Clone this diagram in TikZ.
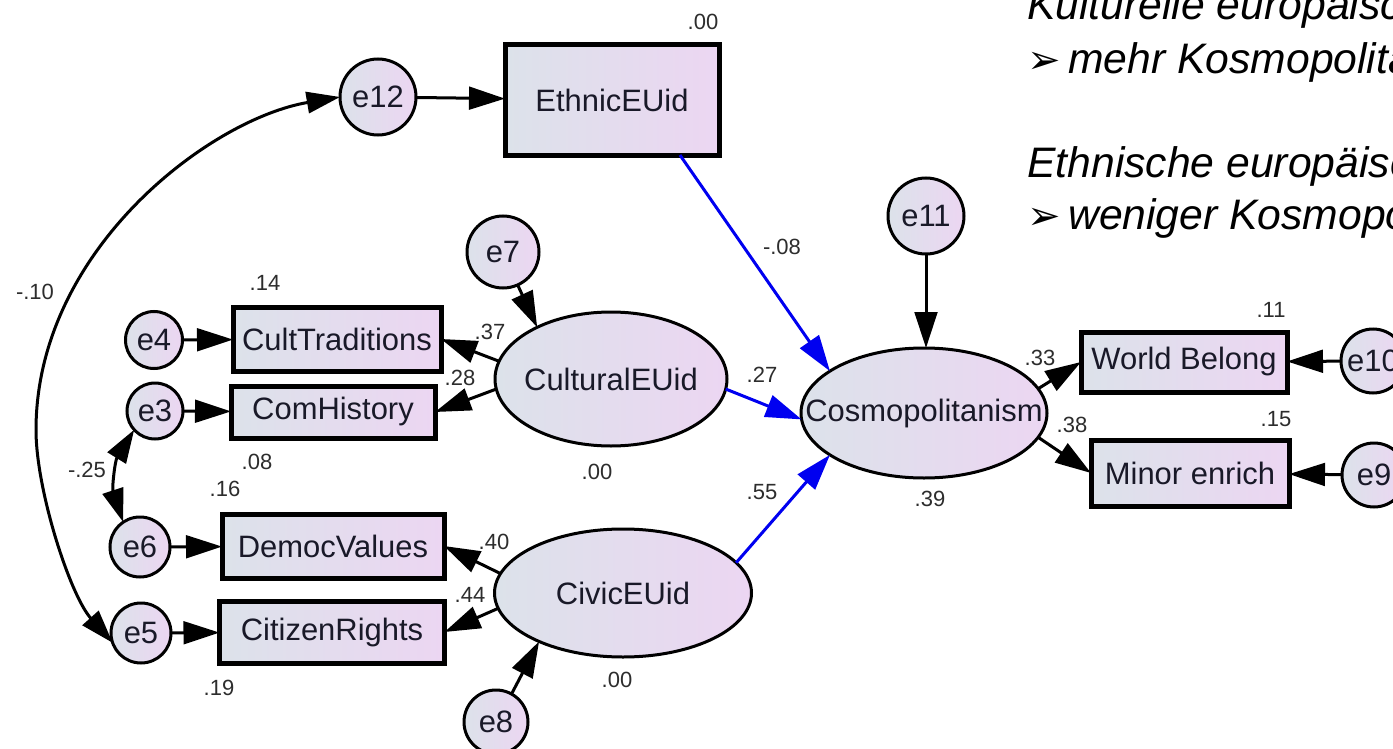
\documentclass[tikz,border=0pt]{standalone}
\usepackage{fontspec}
\setmainfont{Liberation Sans}
\newfontfamily\symfont{DejaVu Sans}
\usetikzlibrary{arrows.meta,shapes.geometric}
\newlength\pxu \setlength\pxu{0.75pt}
\newcommand\mkc[1]{\makebox[0pt]{#1}}
\newcommand\bul{\makebox[30.75pt][l]{\symfont\upshape\fontsize{30}{34}\selectfont ➢}}
\definecolor{shadeL}{RGB}{220,226,234}
\definecolor{shadeR}{RGB}{236,214,242}
\definecolor{txt}{RGB}{25,25,40}
\definecolor{numc}{RGB}{45,45,45}
\definecolor{pathblue}{RGB}{0,0,240}
\tikzset{
 base/.style={left color=shadeL, right color=shadeR, text=txt, font=\fontsize{23.2}{27}\selectfont, inner sep=0pt, outer sep=0pt},
 obs/.style={base, draw=black, line width=3.75pt, rectangle},
 lat/.style={base, draw=black, line width=2.25pt, ellipse},
 err/.style={base, draw=black, line width=2.25pt, circle},
 num/.style={text=numc, font=\fontsize{16.5}{19}\selectfont, inner sep=0pt},
 conn/.style={line width=2.25pt, -{Triangle[length=27pt,width=17pt]}},
 blueconn/.style={conn, draw=pathblue},
 cov/.style={line width=2.25pt, {Triangle[length=25pt,width=16pt]}-{Triangle[length=25pt,width=16pt]}},
 side/.style={anchor=base west, inner sep=0pt, font=\itshape\fontsize{32}{38}\selectfont},
}
\begin{document}
\begin{tikzpicture}[x=0.75pt,y=-0.75pt]
\useasboundingbox (0,0) rectangle (1393,749);
\clip (0,0) rectangle (1393,749);
\fill[white] (0,0) rectangle (1393,749);

% nodes
\node[obs, minimum width=214\pxu, minimum height=110\pxu] (ethnic) at (612,100) {\mkc{EthnicEUid}};
\node[err, minimum size=76\pxu] (e12) at (378,97) {\mkc{e12}};
\node[err, minimum size=76\pxu] (e11) at (926,216) {\mkc{e11}};
\node[err, minimum size=72\pxu] (e7) at (503,252) {\mkc{e7}};
\node[lat, minimum width=232\pxu, minimum height=134\pxu] (cultural) at (611,379) {\mkc{CulturalEUid}};
\node[lat, minimum width=257\pxu, minimum height=128\pxu] (civic) at (623,593) {\mkc{CivicEUid}};
\node[lat, minimum width=246\pxu, minimum height=130\pxu] (cosmo) at (924,413) {\mkc{Cosmopolitanism}};
\node[obs, minimum width=208\pxu, minimum height=64\pxu] (cult) at (337,339) {\mkc{CultTraditions}};
\node[obs, minimum width=204\pxu, minimum height=52\pxu] (comh) at (333,412) {\mkc{ComHistory}};
\node[obs, minimum width=222\pxu, minimum height=64\pxu] (democ) at (333,546) {\mkc{DemocValues}};
\node[obs, minimum width=225\pxu, minimum height=62\pxu] (citiz) at (332,632) {\mkc{CitizenRights}};
\node[obs, minimum width=206\pxu, minimum height=60\pxu] (world) at (1184,362) {\mkc{World Belong}};
\node[obs, minimum width=198\pxu, minimum height=66\pxu] (minor) at (1190,473) {\mkc{Minor enrich}};
\node[err, minimum size=57\pxu] (e4) at (154,340) {\mkc{e4}};
\node[err, minimum size=56\pxu] (e3) at (155,411) {\mkc{e3}};
\node[err, minimum size=60\pxu] (e6) at (140,547) {\mkc{e6}};
\node[err, minimum size=60\pxu] (e5) at (141,633) {\mkc{e5}};
\node[err, minimum size=64\pxu] (e8) at (496,722) {\mkc{e8}};
\node[err, minimum size=64\pxu] (e10) at (1373,361) {\mkc{e10}};
\node[err, minimum size=64\pxu] (e9) at (1374,475) {\mkc{e9}};

% connectors
\draw[conn] (e12) -- (ethnic);
\draw[conn] (e4) -- (cult);
\draw[conn] (e3) -- (comh);
\draw[conn] (e6) -- (democ);
\draw[conn] (e5) -- (citiz);
\draw[conn] (e10) -- (world);
\draw[conn] (e9) -- (minor);
\draw[conn] (e11) -- (e11 |- cosmo.north);
\draw[conn] (e7.-66) -- (cultural.145);
\draw[conn] (e8.61) -- (civic.210);
\draw[conn] (cultural.171) -- (cult.east);
\draw[conn] (cultural.185) -- (comh.east);
\draw[conn] (civic.171) -- (democ.east);
\draw[conn] (civic.187) -- (citiz.east);
\draw[conn] (cosmo.12) -- (world.west);
\draw[conn] (cosmo.-12) -- (minor.west);
\draw[blueconn] (ethnic.-39) -- (cosmo.156);
\draw[blueconn] (cultural.-5) -- (cosmo.183);
\draw[blueconn] (civic.15) -- (cosmo.204);
\draw[cov] (e3.222) to[bend right=25] (e6.124);
\draw[cov] (e12.west) .. controls (210,119) and (36,250) .. (36,430) .. controls (36,490) and (70,595) .. (e5.199);

% coefficients
\node[num] (n1) at (703,22) {.00};
\node[num] (n2) at (782,247) {-.08};
\node[num] (n3) at (265,283) {.14};
\node[num] (n4) at (490,332) {.37};
\node[num] (n5) at (460,378) {.28};
\node[num] (n6) at (762,375) {.27};
\node[num] (n7) at (257,462) {.08};
\node[num] (n8) at (225,489) {.16};
\node[num] (n9) at (597,472) {.00};
\node[num] (n10) at (87,470) {-.25};
\node[num] (n11) at (35,292) {-.10};
\node[num] (n12) at (762,492) {.55};
\node[num] (n13) at (494,542) {.40};
\node[num] (n14) at (470,595) {.44};
\node[num] (n15) at (219,688) {.19};
\node[num] (n16) at (617,680) {.00};
\node[num] (n17) at (1040,358) {.33};
\node[num] (n18) at (1072,425) {.38};
\node[num] (n19) at (1271,310) {.11};
\node[num] (n20) at (1276,419) {.15};
\node[num] (n21) at (930,499) {.39};

% side text
\node[side] (k1) at (1027,20) {Kulturelle europäische Identität};
\node[side] (k2) at (1027,74) {\bul mehr Kosmopolitanismus};
\node[side] (k3) at (1027,177) {Ethnische europäische Identität};
\node[side] (k4) at (1027,229) {\bul weniger Kosmopolitanismus};
\end{tikzpicture}
\end{document}
